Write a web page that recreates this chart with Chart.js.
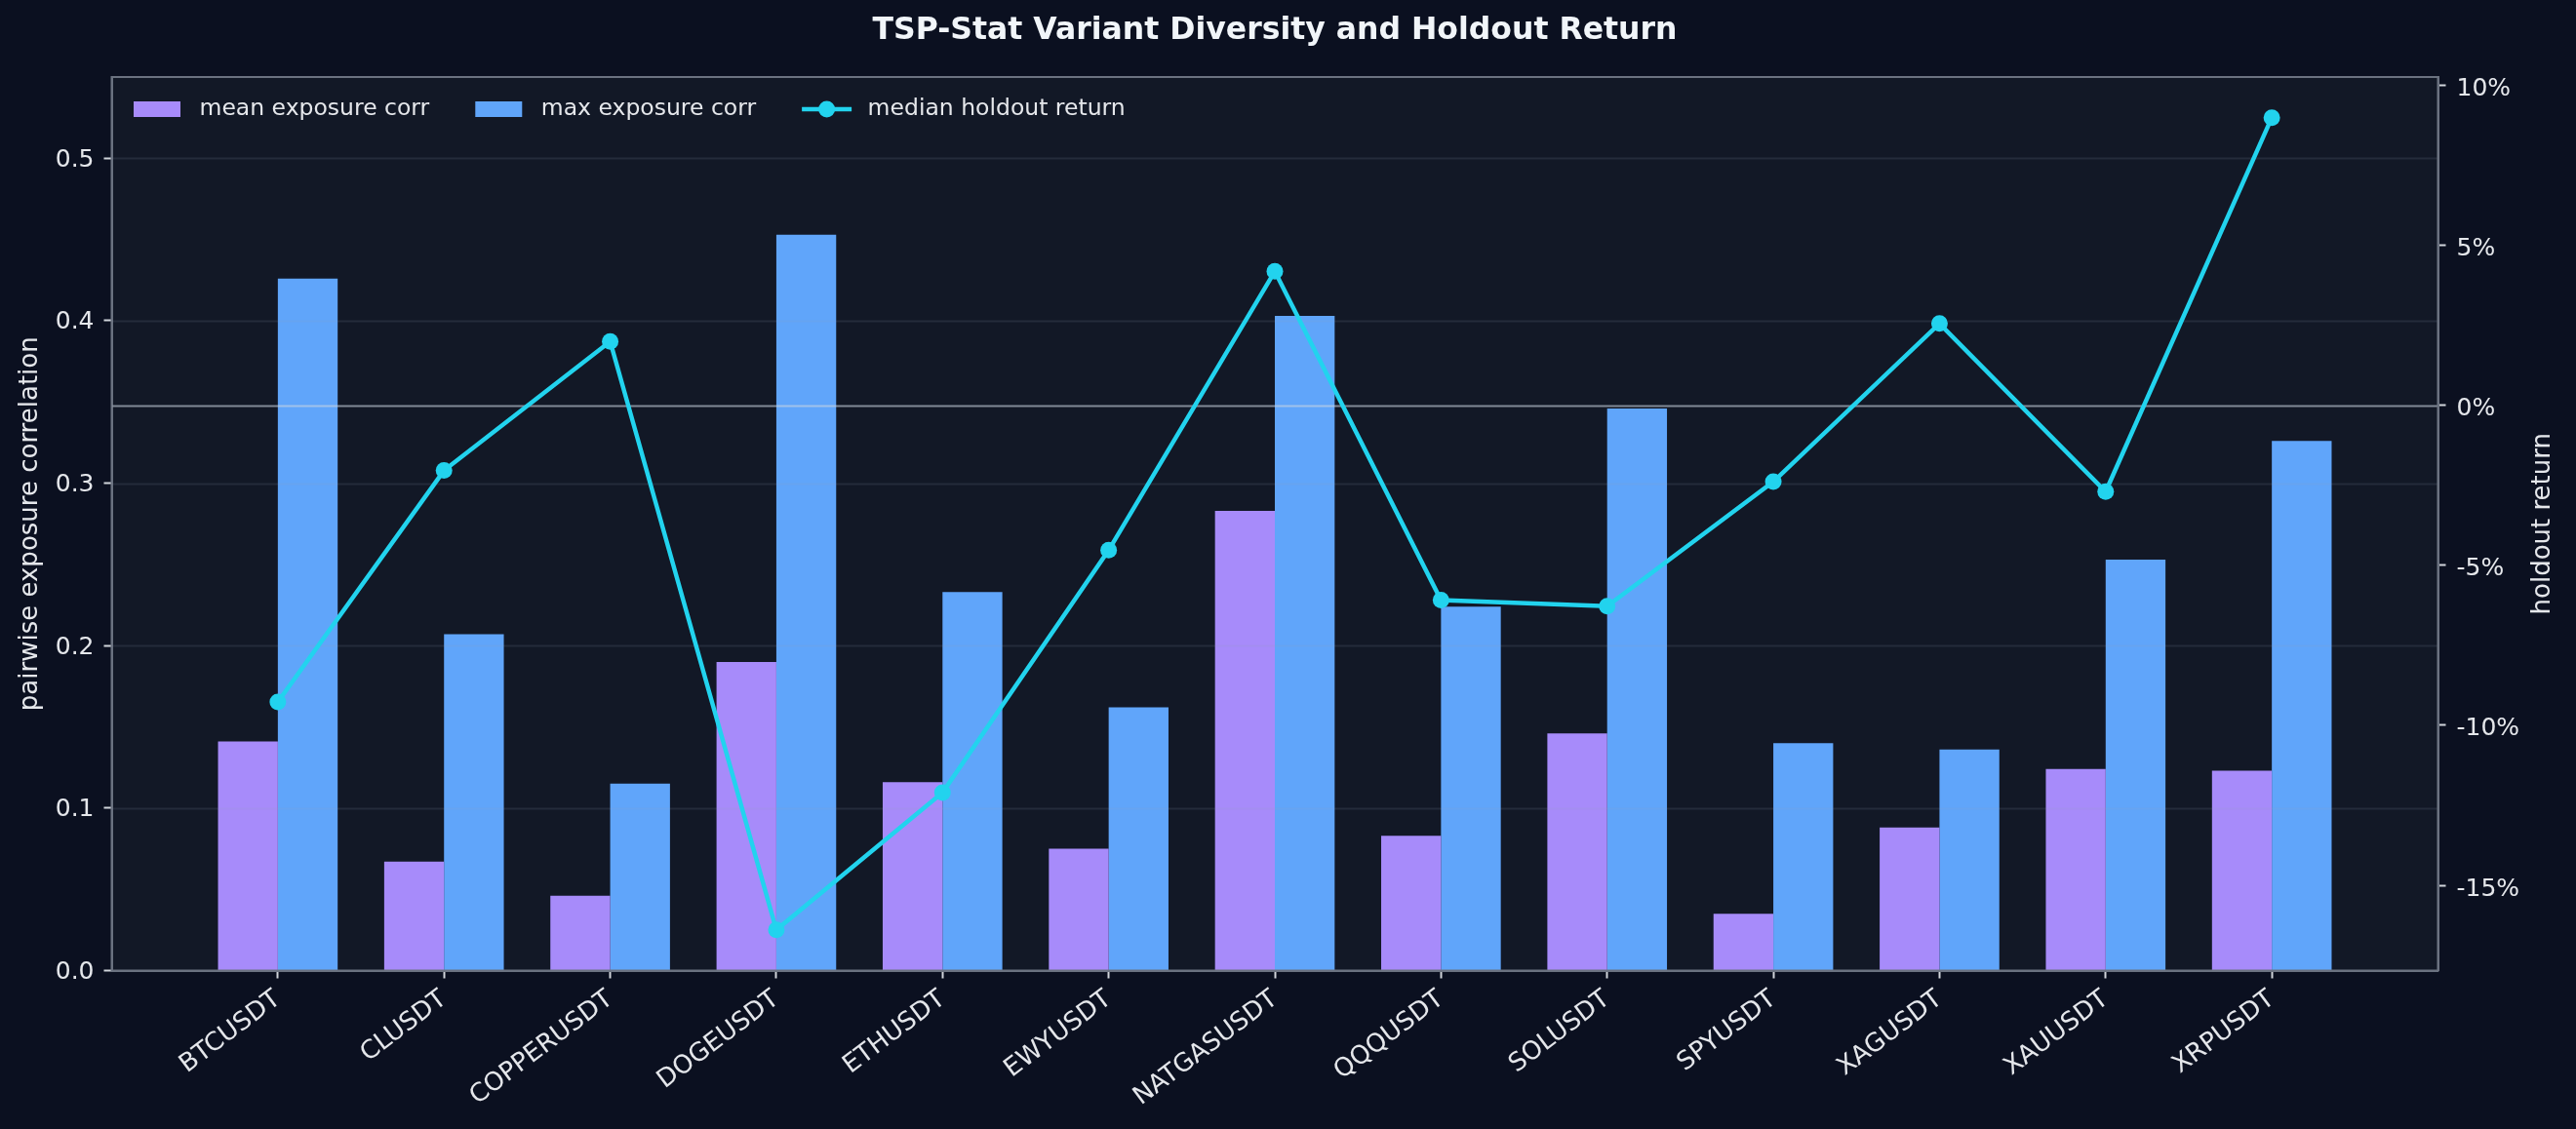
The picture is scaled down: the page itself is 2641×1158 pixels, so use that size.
<!DOCTYPE html>
<html>
<head>
<meta charset="utf-8">
<title>TSP-Stat Variant Diversity and Holdout Return</title>
<script src="https://cdn.jsdelivr.net/npm/chart.js@4.4.1/dist/chart.umd.min.js"></script>
<style>
  html, body { margin: 0; padding: 0; background: #0b1020; }
  #wrap { width: 2641px; height: 1158px; }
</style>
</head>
<body>
<div id="wrap"><canvas id="chart" width="2641" height="1158"></canvas></div>
<script>
// symbols on the x axis
const categories = ['BTCUSDT', 'CLUSDT', 'COPPERUSDT', 'DOGEUSDT', 'ETHUSDT', 'EWYUSDT', 'NATGASUSDT',
                    'QQQUSDT', 'SOLUSDT', 'SPYUSDT', 'XAGUSDT', 'XAUUSDT', 'XRPUSDT'];
// pairwise exposure correlation (left axis)
const meanCorr = [0.141, 0.067, 0.046, 0.190, 0.116, 0.075, 0.283, 0.083, 0.146, 0.035, 0.088, 0.124, 0.123];
const maxCorr = [0.426, 0.207, 0.115, 0.453, 0.233, 0.162, 0.403, 0.224, 0.346, 0.140, 0.136, 0.253, 0.326];
// median holdout return in percent (right axis)
const medianReturn = [-9.27, -2.04, 1.99, -16.39, -12.10, -4.53, 4.18, -6.09, -6.28, -2.39, 2.55, -2.70, 8.98];

const TITLE = 'TSP-Stat Variant Diversity and Holdout Return';
const RIGHT_TITLE = 'holdout return';

const FONT = 'DejaVu Sans';
const TEXT = '#e5e7eb';
const SPINE = '#6b7280';
const GRID = 'rgba(148,163,184,0.14)';
const COL_MEAN = '#a78bfa';
const COL_MAX = '#60a5fa';
const COL_LINE = '#22d3ee';

const toXY = (arr) => arr.map((v, i) => ({ x: i, y: v }));

// backgrounds, grid, zero line, frame, titles and legend
const decor = {
    id: 'decor',
    beforeDraw(chart) {
        const { ctx, chartArea: a } = chart;
        ctx.save();
        ctx.fillStyle = '#0b1020';
        ctx.fillRect(0, 0, chart.width, chart.height);
        ctx.fillStyle = '#121826';
        ctx.fillRect(a.left, a.top, a.right - a.left, a.bottom - a.top);
        ctx.restore();
    },
    afterDatasetDraw(chart, args) {
        // mean bars are the last bars drawn, before the line
        if (args.index !== 0) return;
        const { ctx, chartArea: a } = chart;
        const y = chart.scales.y;
        ctx.save();
        ctx.strokeStyle = GRID;
        ctx.lineWidth = 2;
        y.ticks.forEach(t => {
            const py = Math.round(y.getPixelForValue(t.value)) + 0.5;
            if (py <= a.top + 1 || py >= a.bottom - 1) return;
            ctx.beginPath(); ctx.moveTo(a.left, py); ctx.lineTo(a.right, py); ctx.stroke();
        });
        // zero line of the return axis
        const z = Math.round(chart.scales.y1.getPixelForValue(0)) + 0.5;
        ctx.strokeStyle = 'rgba(203,213,225,0.6)';
        ctx.lineWidth = 2;
        ctx.beginPath(); ctx.moveTo(a.left, z); ctx.lineTo(a.right, z); ctx.stroke();
        ctx.restore();
    },
    afterDraw(chart) {
        const { ctx, chartArea: a } = chart;
        ctx.save();
        ctx.strokeStyle = SPINE;
        ctx.lineWidth = 2;
        ctx.strokeRect(a.left, a.top, a.right - a.left, a.bottom - a.top);

        // title, centred over the plot
        ctx.fillStyle = '#f1f5f9';
        ctx.font = 'bold 31.5px "' + FONT + '"';
        ctx.textAlign = 'center';
        ctx.textBaseline = 'middle';
        ctx.fillText(TITLE, (a.left + a.right) / 2, 32);

        // right axis title, reading bottom to top
        ctx.fillStyle = TEXT;
        ctx.font = '26px "' + FONT + '"';
        ctx.translate(2607, (a.top + a.bottom) / 2);
        ctx.rotate(-Math.PI / 2);
        ctx.fillText(RIGHT_TITLE, 0, 0);
        ctx.setTransform(1, 0, 0, 1, 0, 0);

        // legend inside the plot, top left
        ctx.font = '23.5px "' + FONT + '"';
        ctx.textAlign = 'left';
        ctx.textBaseline = 'middle';
        const cy = a.top + 33;
        let x = a.left + 22.5;
        const items = [
            { label: chart.data.datasets[0].label, kind: 'box', color: COL_MEAN },
            { label: chart.data.datasets[1].label, kind: 'box', color: COL_MAX },
            { label: chart.data.datasets[2].label, kind: 'line', color: COL_LINE }
        ];
        items.forEach(it => {
            if (it.kind === 'box') {
                ctx.fillStyle = it.color;
                ctx.fillRect(x, cy - 8, 48, 16);
            } else {
                ctx.strokeStyle = it.color;
                ctx.lineWidth = 4.5;
                ctx.beginPath(); ctx.moveTo(x, cy); ctx.lineTo(x + 51, cy); ctx.stroke();
                ctx.fillStyle = it.color;
                ctx.beginPath(); ctx.arc(x + 25.5, cy, 8.5, 0, Math.PI * 2); ctx.fill();
            }
            const tx = x + 67.5;
            ctx.fillStyle = TEXT;
            ctx.fillText(it.label, tx, cy);
            x = tx + ctx.measureText(it.label).width + 47;
        });
        ctx.restore();
    }
};

const tickGrid = {
    drawOnChartArea: false,
    drawTicks: true,
    tickLength: 8,
    tickWidth: 2,
    tickColor: '#d1d5db',
};

const ctx = document.getElementById('chart').getContext('2d');
new Chart(ctx, {
    type: 'bar',
    data: {
        datasets: [{
            label: 'mean exposure corr',
            data: toXY(meanCorr),
            backgroundColor: COL_MEAN,
            yAxisID: 'y',
            order: 1,
            categoryPercentage: 0.72,
            barPercentage: 1.0,
        }, {
            label: 'max exposure corr',
            data: toXY(maxCorr),
            backgroundColor: COL_MAX,
            yAxisID: 'y',
            order: 2,
            categoryPercentage: 0.72,
            barPercentage: 1.0,
        }, {
            type: 'line',
            label: 'median holdout return',
            data: toXY(medianReturn),
            borderColor: COL_LINE,
            backgroundColor: COL_LINE,
            borderWidth: 4.5,
            pointRadius: 8.5,
            pointBorderWidth: 0,
            pointHoverRadius: 8.5,
            tension: 0,
            yAxisID: 'y1',
            order: 0,
        }]
    },
    options: {
        responsive: false,
        animation: false,
        devicePixelRatio: 1,
        layout: { padding: { top: 79, left: 0, right: 0, bottom: 0 } },
        plugins: {
            legend: { display: false },
            tooltip: { enabled: false },
            title: { display: false },
        },
        scales: {
            x: {
                type: 'linear',
                min: -1,
                max: 13,
                offset: false,
                afterBuildTicks: (axis) => {
                    axis.ticks = categories.map((c, i) => ({ value: i }));
                },
                afterFit: (scale) => { scale.height = 162.5; },
                ticks: {
                    autoSkip: false,
                    minRotation: 37,
                    maxRotation: 37,
                    padding: 6,
                    color: TEXT,
                    font: { family: FONT, size: 26 },
                    callback: (v) => categories[v] ?? '',
                },
                grid: Object.assign({ offset: false }, tickGrid),
                border: { color: SPINE, width: 2 },
            },
            y: {
                position: 'left',
                min: 0,
                max: 0.55,
                afterFit: (scale) => { scale.width = 114.5; },
                ticks: {
                    stepSize: 0.1,
                    includeBounds: false,
                    padding: 10,
                    labelOffset: 2,
                    color: TEXT,
                    font: { family: FONT, size: 25 },
                    callback: (v) => v.toFixed(1),
                },
                grid: tickGrid,
                border: { color: SPINE, width: 2 },
                title: {
                    display: true,
                    text: 'pairwise exposure correlation',
                    color: TEXT,
                    font: { family: FONT, size: 26 },
                    padding: { top: 16, bottom: 0 },
                },
            },
            y1: {
                position: 'right',
                min: -17.66,
                max: 10.25,
                afterFit: (scale) => { scale.width = 141.5; },
                ticks: {
                    stepSize: 5,
                    includeBounds: false,
                    padding: 11,
                    labelOffset: 4,
                    color: TEXT,
                    font: { family: FONT, size: 25 },
                    callback: (v) => Math.round(v) + '%',
                },
                grid: tickGrid,
                border: { color: SPINE, width: 2 },
            },
        },
    },
    plugins: [decor],
});
</script>
</body>
</html>
